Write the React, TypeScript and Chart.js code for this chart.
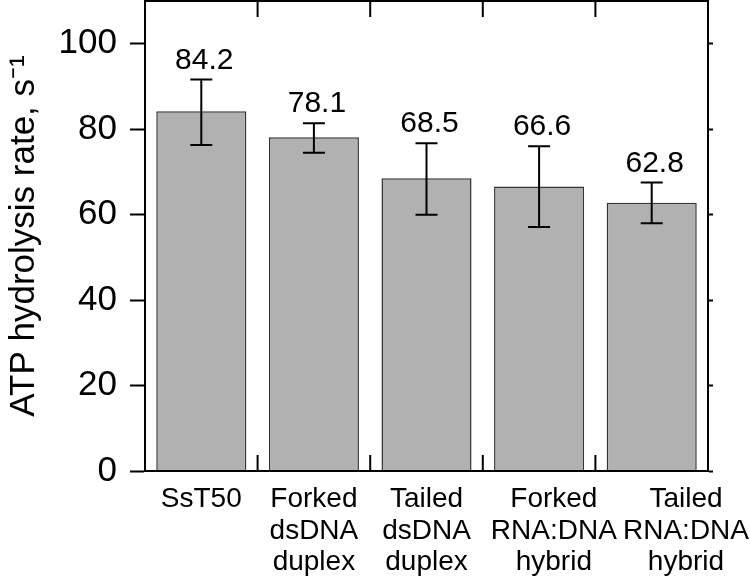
import React, { useEffect, useRef } from "react";
import { Chart, registerables } from "chart.js";

Chart.register(...registerables);

const categories: string[][] = [
  ["SsT50"],
  ["Forked", "dsDNA", "duplex"],
  ["Tailed", "dsDNA", "duplex"],
  ["Forked", "RNA:DNA", "hybrid"],
  ["Tailed", "RNA:DNA", "hybrid"],
];
const rates = [84.2, 78.1, 68.5, 66.6, 62.8];
const errLow = [76.3, 74.5, 60.0, 57.1, 58.0];
const errHigh = [91.6, 81.4, 76.7, 76.0, 67.5];
const yTickValues = [0, 20, 40, 60, 80, 100];
const yTitle = "ATP hydrolysis rate, s\u207B\u00B9";

const FONT = "'Liberation Sans', Arial, Helvetica, sans-serif";

const decorPlugin = {
  id: "decor",
  afterDatasetsDraw(chart: any) {
    const { ctx, chartArea } = chart;
    const x = chart.scales.x;
    const y = chart.scales.y;
    ctx.save();
    ctx.strokeStyle = "#000";
    ctx.lineWidth = 2;
    const cap = 11;
    rates.forEach((v, i) => {
      const cx = x.getPixelForValue(i);
      const yl = y.getPixelForValue(errLow[i]);
      const yh = y.getPixelForValue(errHigh[i]);
      ctx.beginPath();
      ctx.moveTo(cx, yl);
      ctx.lineTo(cx, yh);
      ctx.moveTo(cx - cap, yl);
      ctx.lineTo(cx + cap, yl);
      ctx.moveTo(cx - cap, yh);
      ctx.lineTo(cx + cap, yh);
      ctx.stroke();
      ctx.fillStyle = "#000";
      ctx.font = `30px ${FONT}`;
      ctx.textAlign = "center";
      ctx.textBaseline = "alphabetic";
      ctx.fillText(v.toFixed(1), cx + 3, yh - 11);
    });
    ctx.lineWidth = 2;
    ctx.strokeRect(chartArea.left, chartArea.top, chartArea.right - chartArea.left, chartArea.bottom - chartArea.top);
    const tl = 16;
    for (let i = 0; i < rates.length - 1; i++) {
      const bx = (x.getPixelForValue(i) + x.getPixelForValue(i + 1)) / 2;
      ctx.beginPath();
      ctx.moveTo(bx, chartArea.bottom);
      ctx.lineTo(bx, chartArea.bottom - tl);
      ctx.moveTo(bx, chartArea.top);
      ctx.lineTo(bx, chartArea.top + tl);
      ctx.stroke();
    }
    // category labels: centred under each bar, pushed right if they would collide
    ctx.font = `28px ${FONT}`;
    ctx.fillStyle = "#000";
    ctx.textAlign = "center";
    ctx.textBaseline = "alphabetic";
    const gap = 20;
    let prevRight = -Infinity;
    categories.forEach((lines, i) => {
      let cx = x.getPixelForValue(i);
      const w = Math.max(...lines.map((l) => ctx.measureText(l).width));
      if (cx - w / 2 < prevRight + gap) cx = prevRight + gap + w / 2;
      if (cx + w / 2 > chart.width - 1) cx = chart.width - 1 - w / 2;
      prevRight = cx + w / 2;
      lines.forEach((l, k) => {
        ctx.fillText(l, cx, chartArea.bottom + 36 + k * 31.5);
      });
    });
    ctx.restore();
  },
};

function zeroPad(scale: any) {
  scale.paddingTop = 0;
  scale.paddingBottom = 0;
  scale.paddingLeft = 0;
  scale.paddingRight = 0;
}

export default function App() {
  const ref = useRef<HTMLCanvasElement | null>(null);
  useEffect(() => {
    document.body.style.margin = "0";
    if (!ref.current) return;
    const chart = new Chart(ref.current, {
      type: "bar",
      data: {
        labels: categories as any,
        datasets: [
          {
            data: rates,
            backgroundColor: "#b1b1b1",
            borderColor: "#333333",
            borderWidth: 1.5,
            barPercentage: 0.8,
            categoryPercentage: 1,
            yAxisID: "y",
          },
        ],
      },
      options: {
        animation: false,
        responsive: true,
        maintainAspectRatio: false,
        layout: { padding: { top: 1, left: 0, right: 0, bottom: 0 } },
        plugins: { legend: { display: false }, tooltip: { enabled: false } },
        scales: {
          x: {
            type: "category",
            offset: true,
            grid: { display: false },
            border: { display: false },
            ticks: { display: false },
            afterFit(scale: any) {
              scale.height = 108;
              zeroPad(scale);
            },
          },
          y: {
            type: "linear",
            position: "left",
            min: 0,
            max: 110,
            afterBuildTicks(scale: any) {
              scale.ticks = yTickValues.map((v) => ({ value: v }));
            },
            grid: {
              drawOnChartArea: false,
              drawTicks: true,
              tickLength: 15,
              tickColor: "#000",
              tickWidth: 2,
            },
            border: { display: true, color: "#000", width: 2 },
            ticks: {
              color: "#000",
              font: { family: FONT, size: 35 },
              padding: 13,
            },
            title: {
              display: true,
              text: yTitle,
              color: "#000",
              font: { family: FONT, size: 35 },
              padding: { top: 3, bottom: 0 },
            },
            afterFit(scale: any) {
              scale.width = 145;
              zeroPad(scale);
            },
          },
          y2: {
            type: "linear",
            position: "right",
            min: 0,
            max: 110,
            afterBuildTicks(scale: any) {
              scale.ticks = yTickValues.map((v) => ({ value: v }));
            },
            grid: {
              drawOnChartArea: false,
              drawTicks: true,
              tickLength: 5,
              tickColor: "#000",
              tickWidth: 2,
            },
            border: { display: true, color: "#000", width: 2 },
            ticks: { display: false },
            afterFit(scale: any) {
              scale.width = 42;
              zeroPad(scale);
            },
          },
        },
      },
      plugins: [decorPlugin],
    } as any);
    return () => chart.destroy();
  }, []);
  return (
    <div style={{ position: "absolute", left: 0, top: 0, width: 750, height: 579 }}>
      <canvas ref={ref} />
    </div>
  );
}
